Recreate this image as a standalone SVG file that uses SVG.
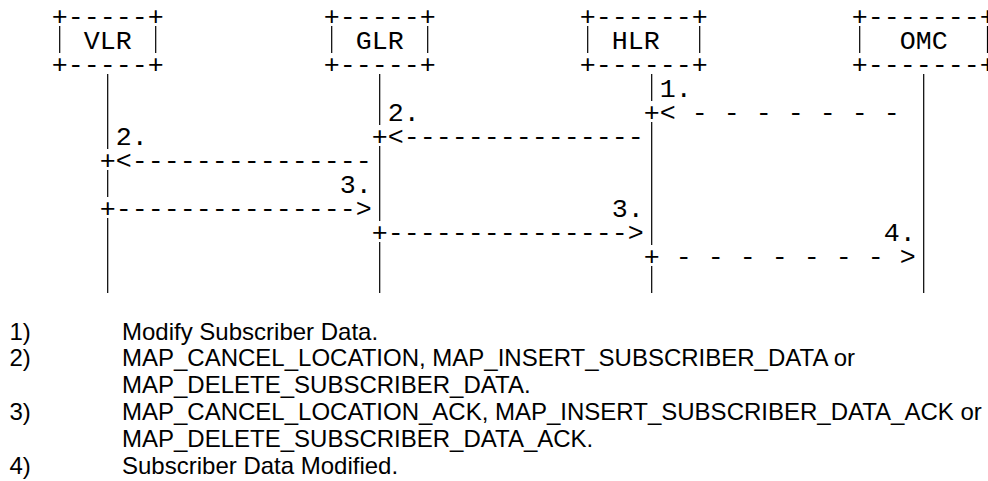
<svg xmlns="http://www.w3.org/2000/svg" width="988" height="481" viewBox="0 0 988 481">
<style>
.m{font-family:"Liberation Mono","Courier New",monospace;font-size:26.667px;fill:#000;white-space:pre}
.s{font-family:"Liberation Sans",Arial,sans-serif;font-size:24px;fill:#000}
.l{stroke:#000;stroke-width:1.2;fill:none}
</style>
<rect width="988" height="481" fill="#fff"/>
<g id="node-VLR">
<text class="m" x="51.7" y="24.5" xml:space="preserve">+-----+</text>
<line class="l" x1="59.7" y1="26" x2="59.7" y2="53"/>
<text class="m" x="83.7" y="48.5">VLR</text>
<line class="l" x1="155.7" y1="26" x2="155.7" y2="53"/>
<text class="m" x="51.7" y="72.5" xml:space="preserve">+-----+</text>
<path class="l" d="M107.7 74V149M107.7 170V197M107.7 218V293"/>
</g>
<g id="node-GLR">
<text class="m" x="323.7" y="24.5" xml:space="preserve">+-----+</text>
<line class="l" x1="331.7" y1="26" x2="331.7" y2="53"/>
<text class="m" x="355.7" y="48.5">GLR</text>
<line class="l" x1="427.7" y1="26" x2="427.7" y2="53"/>
<text class="m" x="323.7" y="72.5" xml:space="preserve">+-----+</text>
<path class="l" d="M379.7 74V125M379.7 146V221M379.7 242V293"/>
</g>
<g id="node-HLR">
<text class="m" x="579.7" y="24.5" xml:space="preserve">+------+</text>
<line class="l" x1="587.7" y1="26" x2="587.7" y2="53"/>
<text class="m" x="611.7" y="48.5">HLR</text>
<line class="l" x1="699.7" y1="26" x2="699.7" y2="53"/>
<text class="m" x="579.7" y="72.5" xml:space="preserve">+------+</text>
<path class="l" d="M651.7 74V101M651.7 122V245M651.7 266V293"/>
</g>
<g id="node-OMC">
<text class="m" x="851.7" y="24.5" xml:space="preserve">+-------+</text>
<line class="l" x1="859.7" y1="26" x2="859.7" y2="53"/>
<text class="m" x="899.7" y="48.5">OMC</text>
<line class="l" x1="987.5" y1="26" x2="987.5" y2="53"/>
<text class="m" x="851.7" y="72.5" xml:space="preserve">+-------+</text>
<path class="l" d="M923.7 74V293"/>
</g>
<g id="connectors">
<text class="m" x="659.7" y="96.5">1.</text>
<text class="m" x="643.7" y="120.5" xml:space="preserve">+&lt; - - - - - - -</text>
<text class="m" x="387.7" y="120.5">2.</text>
<text class="m" x="371.7" y="144.5" xml:space="preserve">+&lt;---------------</text>
<text class="m" x="115.7" y="144.5">2.</text>
<text class="m" x="99.7" y="168.5" xml:space="preserve">+&lt;---------------</text>
<text class="m" x="339.7" y="192.5">3.</text>
<text class="m" x="99.7" y="216.5" xml:space="preserve">+---------------&gt;</text>
<text class="m" x="611.7" y="216.5">3.</text>
<text class="m" x="371.7" y="240.5" xml:space="preserve">+---------------&gt;</text>
<text class="m" x="883.7" y="240.5">4.</text>
<text class="m" x="643.7" y="264.5" xml:space="preserve">+ - - - - - - - &gt;</text>
</g>
<g id="legend">
<text class="s" x="9.5" y="339.5">1)</text>
<text class="s" x="122" y="339.5">Modify Subscriber Data.</text>
<text class="s" x="9.5" y="366.3">2)</text>
<text class="s" x="122" y="366.3">MAP_CANCEL_LOCATION, MAP_INSERT_SUBSCRIBER_DATA or</text>
<text class="s" x="122" y="393.1">MAP_DELETE_SUBSCRIBER_DATA.</text>
<text class="s" x="9.5" y="419.9">3)</text>
<text class="s" x="122" y="419.9">MAP_CANCEL_LOCATION_ACK, MAP_INSERT_SUBSCRIBER_DATA_ACK or</text>
<text class="s" x="122" y="446.7">MAP_DELETE_SUBSCRIBER_DATA_ACK.</text>
<text class="s" x="9.5" y="473.5">4)</text>
<text class="s" x="122" y="473.5">Subscriber Data Modified.</text>
</g>
</svg>
